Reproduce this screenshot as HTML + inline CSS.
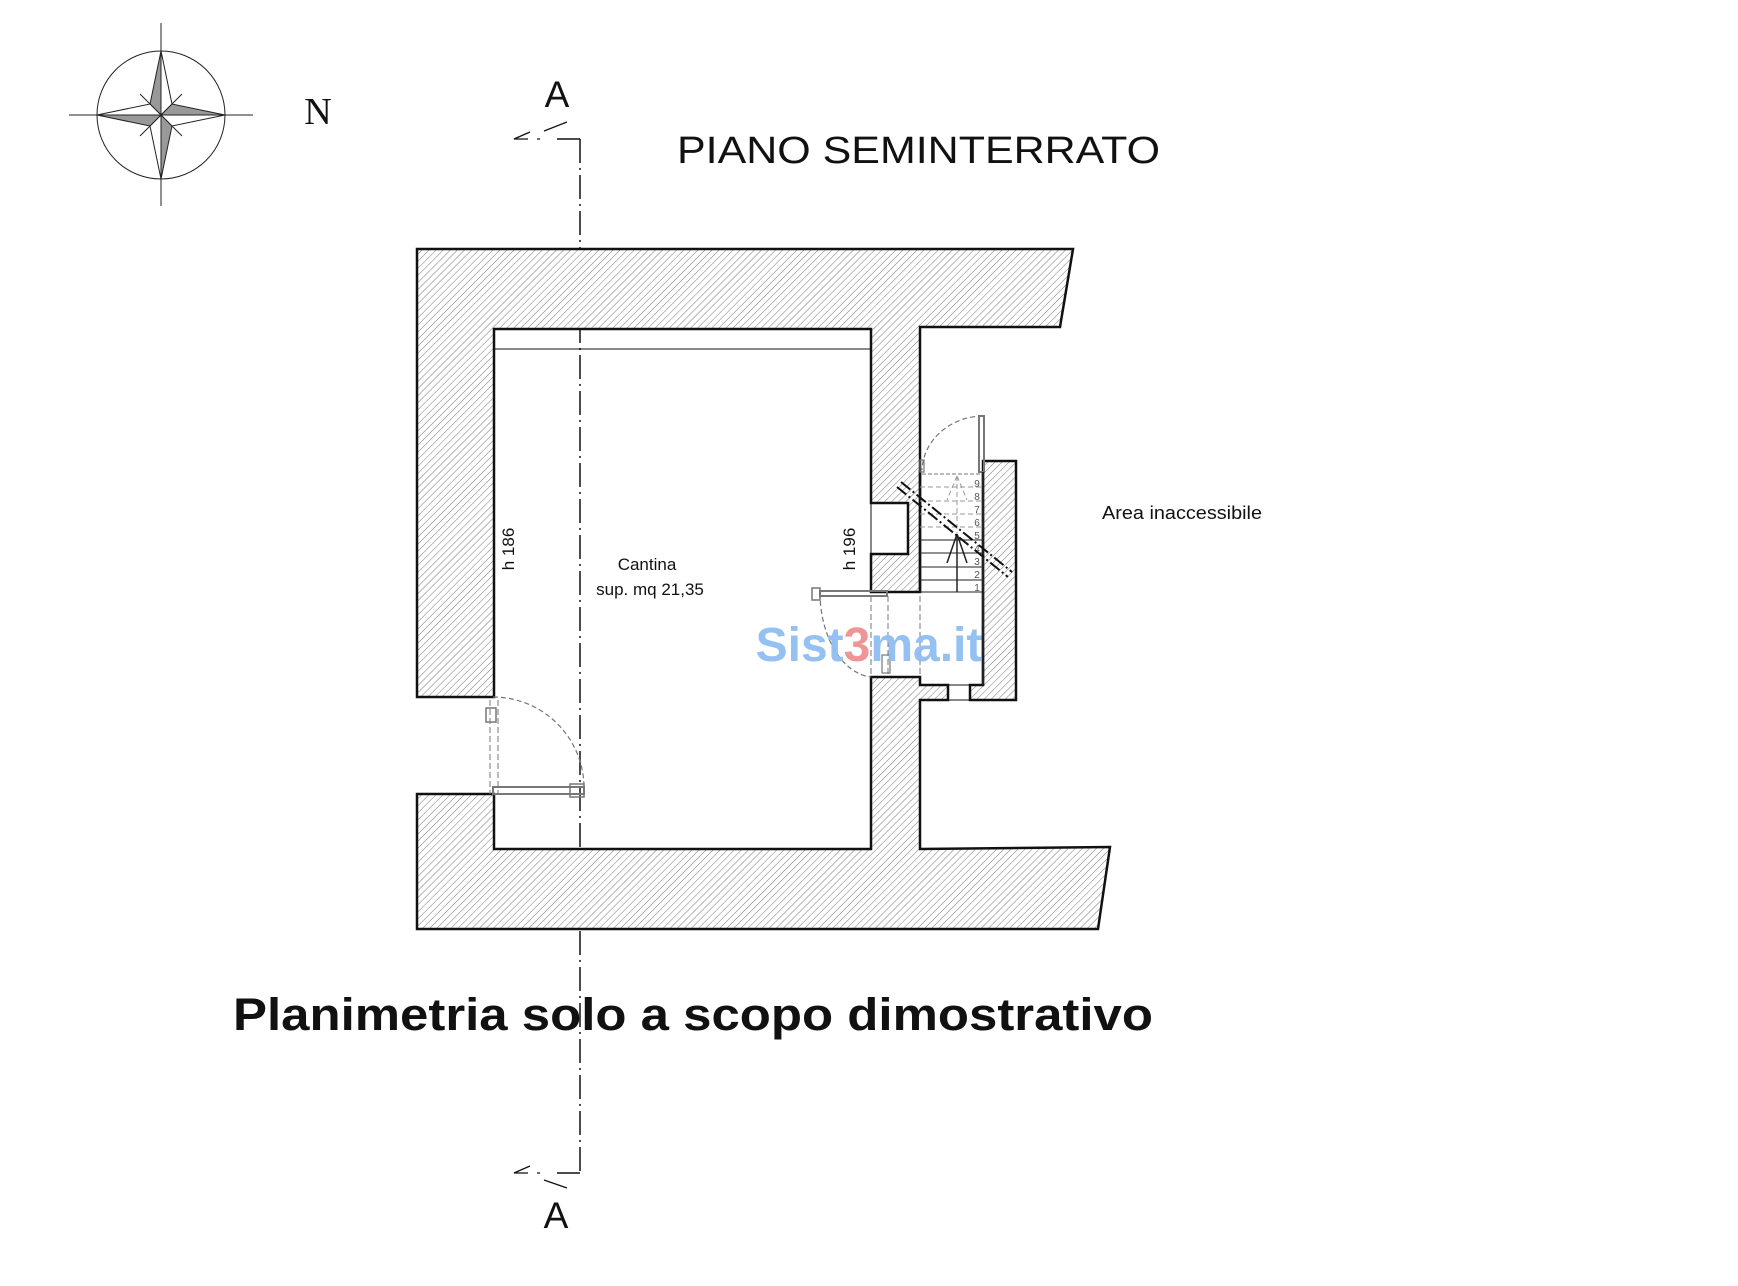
<!DOCTYPE html>
<html><head><meta charset="utf-8"><style>
html,body{margin:0;padding:0;background:#fff;}
svg{display:block;}
</style></head><body>
<svg width="1738" height="1286" viewBox="0 0 1738 1286" xmlns="http://www.w3.org/2000/svg">
<defs>
<pattern id="h" patternUnits="userSpaceOnUse" width="5" height="5" patternTransform="rotate(45)">
<rect width="5" height="5" fill="#fff"/>
<line x1="0" y1="0" x2="0" y2="5" stroke="#777" stroke-width="1"/>
</pattern>
</defs>
<rect width="1738" height="1286" fill="#fff"/>

<!-- compass -->
<circle cx="161" cy="115" r="64" fill="none" stroke="#222" stroke-width="1"/>
<line x1="69" y1="115" x2="253" y2="115" stroke="#222" stroke-width="1"/>
<line x1="161" y1="23" x2="161" y2="206" stroke="#222" stroke-width="1"/>
<line x1="140" y1="94" x2="182" y2="136" stroke="#222" stroke-width="1"/>
<line x1="182" y1="94" x2="140" y2="136" stroke="#222" stroke-width="1"/>
<g stroke="#222" stroke-width="1" stroke-linejoin="miter">
<polygon points="161,51 150,104 161,115" fill="#999"/>
<polygon points="161,51 172,104 161,115" fill="#fff"/>
<polygon points="225,115 172,104 161,115" fill="#999"/>
<polygon points="225,115 172,126 161,115" fill="#fff"/>
<polygon points="161,179 172,126 161,115" fill="#999"/>
<polygon points="161,179 150,126 161,115" fill="#fff"/>
<polygon points="97,115 150,126 161,115" fill="#999"/>
<polygon points="97,115 150,104 161,115" fill="#fff"/>
</g>
<text x="318" y="124" font-family="Liberation Serif, serif" font-size="38" fill="#111" text-anchor="middle">N</text>

<!-- section line -->
<line x1="580" y1="139" x2="580" y2="1173" stroke="#111" stroke-width="1.5" stroke-dasharray="24,5,2,5"/>
<polyline points="557,139 580,139" fill="none" stroke="#111" stroke-width="1.5"/>
<polyline points="557,1173 580,1173" fill="none" stroke="#111" stroke-width="1.5"/>
<path d="M530,132 L514,139 L528,139 M544,131 L567,122 M537,139 L540,139" stroke="#111" stroke-width="1.3" fill="none"/>
<path d="M530,1166 L514,1173 L528,1173 M544,1180 L567,1188 M537,1173 L540,1173" stroke="#111" stroke-width="1.3" fill="none"/>
<text x="557" y="107" font-family="Liberation Sans, sans-serif" font-size="37" fill="#111" text-anchor="middle">A</text>
<text x="556" y="1228" font-family="Liberation Sans, sans-serif" font-size="37" fill="#111" text-anchor="middle">A</text>

<text x="677" y="163" font-family="Liberation Sans, sans-serif" font-size="38" fill="#111" textLength="483" lengthAdjust="spacingAndGlyphs">PIANO  SEMINTERRATO</text>

<!-- walls -->
<g fill="url(#h)" stroke="#111" stroke-width="2.5" stroke-linejoin="miter">
<path d="M417,249 L1073,249 L1060,327 L920,327 L920,470 L920,592 L871,592 L871,554 L908,554 L908,503 L871,503 L871,329 L494,329 L494,697 L417,697 Z"/>
<path d="M417,794 L494,794 L494,849 L871,849 L871,677 L920,677 L920,685 L948,685 L948,700 L920,700 L920,849 L1110,847 L1098,929 L417,929 Z"/>
<path d="M983,461 L1016,461 L1016,700 L970,700 L970,685 L983,685 Z"/>
</g>
<line x1="871" y1="503" x2="871" y2="554" stroke="#111" stroke-width="1"/>
<line x1="920" y1="685" x2="983" y2="685" stroke="#111" stroke-width="1"/>
<line x1="948" y1="700" x2="970" y2="700" stroke="#111" stroke-width="1"/>
<line x1="494" y1="349" x2="871" y2="349" stroke="#111" stroke-width="1"/>
<line x1="920" y1="470" x2="920" y2="592" stroke="#111" stroke-width="2.5"/>

<!-- left door -->
<g stroke="#777" fill="none">
<path d="M493,697 A91,91 0 0 1 584,788" stroke-dasharray="5,3" stroke-width="1.2"/>
<line x1="490" y1="700" x2="490" y2="794" stroke-dasharray="6,3"/>
<line x1="498" y1="700" x2="498" y2="794" stroke-dasharray="6,3"/>
<rect x="493" y="787" width="91" height="7" stroke-width="2"/>
<rect x="486" y="708" width="10" height="14" stroke-width="1.5"/>
<rect x="570" y="784" width="14" height="13" stroke-width="1.5"/>
</g>

<!-- room-stair door -->
<g stroke="#777" fill="none">
<rect x="820" y="591" width="67" height="5" stroke-width="2"/>
<rect x="812" y="588" width="8" height="12" stroke-width="1.5"/>
<path d="M820,593 A55,85 0 0 0 871,677" stroke-dasharray="5,3" stroke-width="1.2"/>
<line x1="871" y1="596" x2="871" y2="677" stroke-dasharray="6,3"/>
<line x1="888" y1="596" x2="888" y2="677" stroke-dasharray="6,3"/>
<line x1="920" y1="596" x2="920" y2="677" stroke-dasharray="6,3"/>
<rect x="882" y="655" width="8" height="18" stroke-width="1.2"/>
</g>

<!-- stair top door -->
<g stroke="#777" fill="none">
<rect x="979" y="416" width="5" height="56" stroke-width="2"/>
<path d="M983,416 A62,56 0 0 0 922,470" stroke-dasharray="5,3" stroke-width="1.2"/>
<rect x="920" y="460" width="4" height="12" stroke-width="1.2"/>
<line x1="922" y1="474" x2="983" y2="474" stroke-dasharray="4,2"/>
</g>

<!-- stairs -->
<g stroke="#999" stroke-width="1" stroke-dasharray="5,3">
<line x1="920" y1="487" x2="983" y2="487"/>
<line x1="920" y1="501" x2="983" y2="501"/>
<line x1="920" y1="514" x2="983" y2="514"/>
<line x1="920" y1="527" x2="983" y2="527"/>
<line x1="957" y1="476" x2="947" y2="500" />
<line x1="957" y1="476" x2="967" y2="500" />
<line x1="957" y1="476" x2="957" y2="533"/>
</g>
<g stroke="#222" stroke-width="1">
<line x1="920" y1="540" x2="983" y2="540"/>
<line x1="920" y1="553" x2="983" y2="553"/>
<line x1="920" y1="567" x2="983" y2="567"/>
<line x1="920" y1="580" x2="983" y2="580"/>
<line x1="920" y1="592" x2="983" y2="592"/>
<line x1="957" y1="592" x2="957" y2="534" stroke-width="1.5"/>
<line x1="957" y1="534" x2="947" y2="563" stroke-width="1.5"/>
<line x1="957" y1="534" x2="967" y2="563" stroke-width="1.5"/>
<line x1="983" y1="472" x2="983" y2="685" stroke-width="2.5"/>
</g>
<g font-family="Liberation Sans, sans-serif" font-size="10" fill="#555" text-anchor="middle">
<text x="977" y="591">1</text><text x="977" y="578">2</text><text x="977" y="565">3</text>
<text x="977" y="552">4</text><text x="977" y="539">5</text><text x="977" y="526">6</text>
<text x="977" y="513">7</text><text x="977" y="500">8</text><text x="977" y="487">9</text>
</g>
<g stroke="#111" stroke-width="2" stroke-dasharray="12,3,2,3">
<line x1="897" y1="487" x2="1008" y2="577"/>
<line x1="901" y1="482" x2="1012" y2="572"/>
</g>

<!-- labels -->
<g font-family="Liberation Sans, sans-serif" font-size="17" fill="#111">
<text x="647" y="570" text-anchor="middle">Cantina</text>
<text x="650" y="595" text-anchor="middle">sup. mq 21,35</text>
<text transform="translate(514,549) rotate(-90)" text-anchor="middle">h 186</text>
<text transform="translate(855,549) rotate(-90)" text-anchor="middle">h 196</text>
<text x="1182" y="519" text-anchor="middle" font-size="18" textLength="160" lengthAdjust="spacingAndGlyphs">Area inaccessibile</text>
</g>

<text x="869" y="661" font-family="Liberation Sans, sans-serif" font-weight="bold" font-size="48" text-anchor="middle" fill="#8fbdf2" opacity="0.95">Sist<tspan fill="#ee9090">3</tspan>ma.it</text>

<text x="233" y="1030" font-family="Liberation Sans, sans-serif" font-weight="bold" font-size="45" fill="#111" textLength="920" lengthAdjust="spacingAndGlyphs">Planimetria solo a scopo dimostrativo</text>
</svg>
</body></html>
